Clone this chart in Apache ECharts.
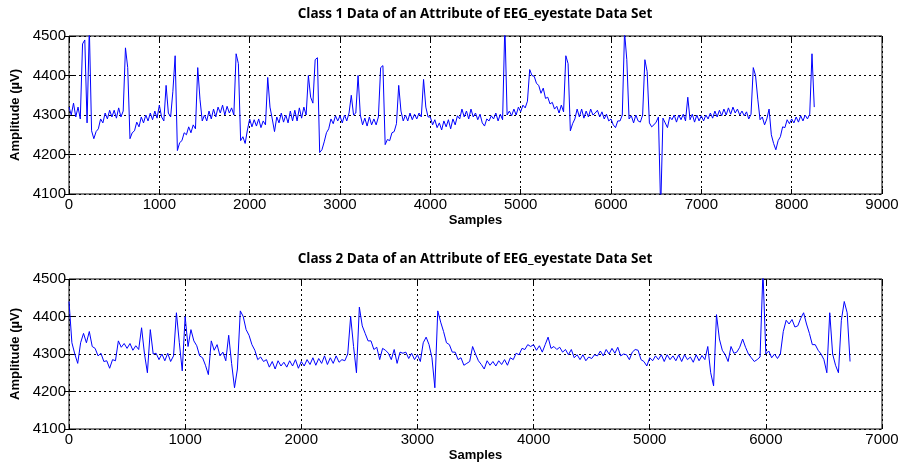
<!DOCTYPE html>
<html>
<head>
<meta charset="utf-8">
<script src="https://cdn.jsdelivr.net/npm/echarts@6/dist/echarts.min.js"></script>
<style>
html,body{margin:0;padding:0;background:#fff;}
#chart{width:906px;height:463px;}
</style>
</head>
<body>
<div id="chart"></div>
<script>
// ---- Data ----
var titles = [
  'Class 1 Data of an Attribute of EEG_eyestate Data Set',
  'Class 2 Data of an Attribute of EEG_eyestate Data Set'
];
var xAxisName = 'Samples';
var yAxisName = 'Amplitude (\u00b5V)';
var sampleStep = 25; // samples between consecutive readings
var yTicks = [4100, 4200, 4300, 4400, 4500];
var xTicksClass1 = [0, 1000, 2000, 3000, 4000, 5000, 6000, 7000, 8000, 9000];
var xTicksClass2 = [0, 1000, 2000, 3000, 4000, 5000, 6000, 7000];

// Class 1 amplitudes, one every 25 samples starting at sample 0
var class1Values = [
  4320,4300,4330,4295,4320,4290,4480,4490,4280,4520,4260,4240,4258,4265,4290,4280,4305,4290,4312,4295,
  4312,4292,4318,4295,4310,4470,4420,4240,4255,4260,4282,4270,4295,4280,4300,4285,4305,4288,4310,4292,
  4325,4295,4285,4375,4305,4295,4360,4450,4210,4230,4235,4255,4250,4270,4255,4275,4265,4420,4340,4285,
  4300,4285,4310,4290,4315,4295,4320,4305,4325,4300,4322,4305,4318,4300,4455,4430,4235,4245,4228,4262,
  4290,4270,4288,4272,4290,4268,4285,4275,4395,4320,4290,4258,4295,4280,4305,4282,4300,4280,4310,4285,
  4312,4285,4318,4292,4320,4300,4400,4345,4330,4440,4445,4205,4212,4232,4255,4265,4290,4278,4298,4285,
  4298,4280,4300,4285,4305,4350,4300,4305,4400,4300,4275,4292,4272,4295,4275,4290,4275,4295,4420,4425,
  4225,4238,4235,4255,4258,4278,4375,4310,4285,4300,4285,4305,4288,4302,4290,4305,4295,4390,4320,4295,
  4295,4275,4288,4268,4280,4262,4285,4270,4288,4265,4290,4275,4298,4290,4315,4295,4310,4290,4315,4295,
  4305,4288,4302,4280,4272,4290,4285,4298,4290,4305,4285,4302,4288,4530,4300,4310,4298,4315,4300,4320,
  4308,4325,4318,4335,4415,4400,4398,4380,4375,4355,4368,4342,4345,4328,4332,4315,4322,4305,4325,4308,
  4450,4430,4260,4278,4290,4315,4295,4315,4292,4310,4295,4315,4300,4305,4312,4295,4308,4290,4302,4285,
  4290,4275,4268,4285,4285,4300,4510,4440,4290,4298,4280,4300,4285,4282,4300,4440,4410,4280,4270,4275,
  4282,4295,4060,4292,4280,4268,4295,4288,4300,4282,4300,4288,4302,4285,4345,4288,4302,4282,4300,4285,
  4298,4285,4300,4290,4305,4292,4310,4295,4312,4298,4315,4300,4318,4302,4320,4305,4315,4300,4310,4298,
  4308,4290,4302,4420,4400,4340,4288,4295,4275,4290,4315,4250,4228,4212,4235,4245,4270,4268,4288,4278,
  4290,4280,4295,4282,4298,4285,4300,4290,4302,4455,4320
];

// Class 2 amplitudes, one every 25 samples starting at sample 0
var class2Values = [
  4440,4330,4300,4275,4330,4355,4330,4360,4320,4315,4295,4302,4280,4282,4262,4285,4282,4335,4318,4328,
  4315,4328,4310,4322,4312,4370,4300,4250,4365,4300,4302,4285,4300,4282,4302,4280,4295,4410,4330,4255,
  4400,4320,4365,4335,4322,4295,4290,4270,4245,4335,4310,4325,4295,4305,4282,4350,4275,4210,4260,4415,
  4400,4365,4350,4325,4310,4285,4292,4280,4285,4265,4280,4260,4282,4268,4278,4265,4282,4268,4285,4262,
  4280,4268,4285,4272,4290,4270,4288,4275,4295,4272,4290,4275,4295,4278,4285,4282,4300,4400,4320,4250,
  4425,4375,4355,4335,4335,4312,4318,4285,4315,4310,4302,4285,4312,4275,4305,4302,4305,4288,4302,4285,
  4298,4280,4330,4345,4325,4290,4210,4415,4385,4360,4330,4325,4305,4305,4285,4290,4270,4275,4280,4320,
  4300,4282,4272,4260,4282,4270,4280,4268,4282,4272,4285,4270,4290,4285,4302,4298,4315,4312,4325,4320,
  4325,4310,4322,4305,4325,4345,4315,4320,4312,4318,4305,4312,4298,4312,4290,4298,4285,4298,4282,4292,
  4288,4298,4295,4308,4295,4312,4300,4315,4302,4318,4295,4300,4298,4285,4305,4312,4310,4285,4280,4268,
  4290,4282,4295,4285,4298,4280,4298,4285,4295,4282,4298,4280,4298,4285,4292,4278,4298,4282,4296,4285,
  4320,4250,4215,4405,4340,4310,4298,4280,4320,4302,4305,4318,4340,4318,4300,4290,4280,4285,4292,4520,
  4300,4308,4290,4300,4288,4300,4360,4390,4380,4392,4372,4375,4395,4410,4380,4355,4325,4325,4310,4300,
  4285,4250,4410,4300,4270,4250,4390,4440,4410,4280
];

// ---- Build chart ----
function toPairs(values) {
  var out = [];
  for (var i = 0; i < values.length; i++) out.push([i * sampleStep, values[i]]);
  return out;
}
function plain(v) { return String(v); }

var tickFont = { fontFamily: 'Liberation Sans', fontSize: 15, color: '#000', formatter: plain };
var nameFont = { fontFamily: 'Liberation Sans', fontSize: 13, fontWeight: 'bold', color: '#000' };
var gridLine = { show: true, lineStyle: { color: '#000', type: [2, 3], width: 1 } };

var grids = [
  { left: 69, top: 36, width: 813, height: 158, show: true, borderColor: '#000', borderWidth: 1, backgroundColor: '#fff' },
  { left: 69, top: 279, width: 813, height: 150, show: true, borderColor: '#000', borderWidth: 1, backgroundColor: '#fff' }
];

function xAxes(gi, ticks) {
  var mn = ticks[0], mx = ticks[ticks.length - 1];
  return [
    { type: 'value', gridIndex: gi, min: mn, max: mx, interval: 1000, position: 'bottom',
      name: xAxisName, nameLocation: 'middle', nameGap: 20, nameTextStyle: nameFont,
      axisLine: { show: false }, axisTick: { show: true, inside: true, length: 5, lineStyle: { color: '#000' } },
      axisLabel: Object.assign({ margin: 3 }, tickFont), splitLine: gridLine },
    { type: 'value', gridIndex: gi, min: mn, max: mx, interval: 1000, position: 'top',
      axisLine: { show: false }, axisTick: { show: true, inside: true, length: 5, lineStyle: { color: '#000' } },
      axisLabel: { show: false }, splitLine: { show: false } }
  ];
}
function yAxes(gi) {
  return [
    { type: 'value', gridIndex: gi, min: yTicks[0], max: yTicks[yTicks.length - 1], interval: 100, position: 'left',
      name: yAxisName, nameLocation: 'middle', nameGap: 39, nameRotate: 90, nameTextStyle: nameFont,
      axisLine: { show: false }, axisTick: { show: true, inside: true, length: 5, lineStyle: { color: '#000' } },
      axisLabel: Object.assign({ margin: 3 }, tickFont), splitLine: gridLine },
    { type: 'value', gridIndex: gi, min: yTicks[0], max: yTicks[yTicks.length - 1], interval: 100, position: 'right',
      axisLine: { show: false }, axisTick: { show: true, inside: true, length: 5, lineStyle: { color: '#000' } },
      axisLabel: { show: false }, splitLine: { show: false } }
  ];
}

var xs = xAxes(0, xTicksClass1).concat(xAxes(1, xTicksClass2));
var ys = yAxes(0).concat(yAxes(1));

var chart = echarts.init(document.getElementById('chart'));
chart.setOption({
  animation: false,
  backgroundColor: '#fff',
  grid: grids,
  xAxis: xs,
  yAxis: ys,
  graphic: [
    { type: 'text', style: { text: titles[0], x: 475, y: 14, align: 'center', verticalAlign: 'middle',
      font: 'bold 13.5px "Open Sans"', fill: '#000' } },
    { type: 'text', style: { text: titles[1], x: 475, y: 259, align: 'center', verticalAlign: 'middle',
      font: 'bold 13.5px "Open Sans"', fill: '#000' } }
  ],
  series: [
    { type: 'line', xAxisIndex: 0, yAxisIndex: 0, data: toPairs(class1Values), showSymbol: false, symbol: 'none',
      lineStyle: { color: '#0000ff', width: 1 }, clip: true, sampling: null },
    { type: 'line', xAxisIndex: 2, yAxisIndex: 2, data: toPairs(class2Values), showSymbol: false, symbol: 'none',
      lineStyle: { color: '#0000ff', width: 1 }, clip: true, sampling: null }
  ]
});
</script>
</body>
</html>
